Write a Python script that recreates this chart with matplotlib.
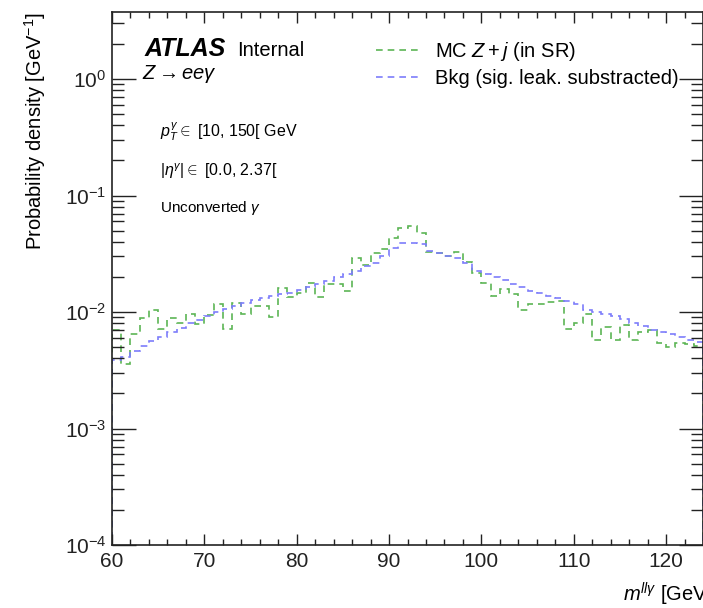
import numpy as np
import matplotlib
matplotlib.use('Agg')
import matplotlib.pyplot as plt
from matplotlib.ticker import LogLocator, MultipleLocator, LogFormatterSciNotation, NullFormatter

plt.rcParams['font.family'] = ['Liberation Sans', 'DejaVu Sans']
plt.rcParams['mathtext.fontset'] = 'custom'
plt.rcParams['mathtext.rm'] = 'Liberation Sans'
plt.rcParams['mathtext.it'] = 'Liberation Sans:italic'
plt.rcParams['mathtext.bf'] = 'Liberation Sans:bold'

# Binning of m_llgamma (1 GeV bins)
m_low = 60
m_high = 124
bin_edges = np.linspace(m_low, m_high, 65)

# MC Z+j (in SR)
mc_zj = [7.0e-3, 3.6e-3, 6.5e-3, 8.8e-3, 1.05e-2, 7.1e-3, 8.8e-3, 8.0e-3,
         9.6e-3, 7.9e-3, 9.4e-3, 1.17e-2, 7.1e-3, 1.2e-2, 9.7e-3, 1.12e-2,
         1.12e-2, 9.1e-3, 1.6e-2, 1.34e-2, 1.45e-2, 1.77e-2, 1.34e-2, 1.73e-2,
         1.73e-2, 1.5e-2, 2.9e-2, 2.54e-2, 3.24e-2, 3.47e-2, 4.3e-2, 5.26e-2,
         5.5e-2, 4.77e-2, 3.3e-2, 3.2e-2, 3.0e-2, 3.3e-2, 2.7e-2, 2.16e-2,
         1.77e-2, 1.37e-2, 1.57e-2, 1.43e-2, 1.04e-2, 1.17e-2, 1.18e-2, 1.23e-2,
         1.25e-2, 7.1e-3, 8.0e-3, 9.7e-3, 5.7e-3, 7.4e-3, 5.7e-3, 7.7e-3,
         5.7e-3, 6.8e-3, 7.0e-3, 5.4e-3, 5.0e-3, 5.4e-3, 5.3e-3, 5.1e-3]

# Bkg (sig. leak. substracted)
bkg = [3.9e-3, 4.1e-3, 4.6e-3, 5.1e-3, 5.6e-3, 6.1e-3, 6.7e-3, 7.3e-3,
       8.0e-3, 8.6e-3, 9.3e-3, 1.0e-2, 1.06e-2, 1.12e-2, 1.2e-2, 1.26e-2,
       1.32e-2, 1.38e-2, 1.43e-2, 1.47e-2, 1.55e-2, 1.65e-2, 1.73e-2, 1.85e-2,
       1.98e-2, 2.1e-2, 2.27e-2, 2.5e-2, 2.65e-2, 3.0e-2, 3.55e-2, 3.9e-2,
       3.95e-2, 3.85e-2, 3.35e-2, 3.2e-2, 3.0e-2, 2.9e-2, 2.65e-2, 2.25e-2,
       2.1e-2, 2.0e-2, 1.87e-2, 1.73e-2, 1.64e-2, 1.52e-2, 1.45e-2, 1.38e-2,
       1.32e-2, 1.25e-2, 1.18e-2, 1.05e-2, 1.0e-2, 9.6e-3, 9.2e-3, 8.7e-3,
       8.1e-3, 7.6e-3, 7.0e-3, 6.8e-3, 6.5e-3, 6.1e-3, 5.7e-3, 5.5e-3]

fig = plt.figure(figsize=(7.03, 6.08), dpi=100)
ax = fig.add_axes([112/703, 63/608, 591/703, 533/608])

ax.stairs(mc_zj, bin_edges, color='#5cb555', linestyle=(0, (4, 3)),
          linewidth=1.2, label=r'MC $Z+j$ (in SR)')
ax.stairs(bkg, bin_edges, color='#7d7dfb', linestyle=(0, (4, 3)),
          linewidth=1.2, label='Bkg (sig. leak. substracted)')

ax.set_yscale('log')
ax.set_xlim(m_low, m_high)
ax.set_ylim(1e-4, 3.76)

ax.xaxis.set_major_locator(MultipleLocator(10))
ax.xaxis.set_minor_locator(MultipleLocator(2))
ax.yaxis.set_major_locator(LogLocator(base=10, numticks=10))
ax.yaxis.set_minor_locator(LogLocator(base=10, subs=np.arange(2, 10), numticks=20))
ax.yaxis.set_major_formatter(LogFormatterSciNotation())
ax.yaxis.set_minor_formatter(NullFormatter())

ax.tick_params(which='both', direction='in', top=True, right=True,
               labelsize=15, width=1.0, colors='#222222')
ax.tick_params(axis='x', which='major', length=8, pad=5)
ax.tick_params(axis='x', which='minor', length=4)
ax.tick_params(axis='y', which='major', length=17, pad=4)
ax.tick_params(axis='y', which='minor', length=8.5)
for s in ax.spines.values():
    s.set_linewidth(1.2)
    s.set_color('#222222')

ax.set_ylabel(r'Probability density [GeV$^{-1}$]', fontsize=14.5, loc='top')
ax.set_xlabel(r'$m^{ll\gamma}$ [GeV]', fontsize=14.5)
ax.xaxis.set_label_coords(1.015, -0.092)
ax.xaxis.label.set_horizontalalignment('right')
ax.xaxis.label.set_verticalalignment('center')
ax.yaxis.set_label_coords(-0.108, 1.0)

# ATLAS label and selection info, positions in pixels from the top-left
labels = [
    (145, 56, 'ATLAS', dict(fontsize=18, fontweight='bold', fontstyle='italic')),
    (237, 56, 'Internal', dict(fontsize=14.5)),
    (142, 74, r'$Z\rightarrow ee\gamma$', dict(fontsize=14.5, va='center')),
    (160, 132, r'$p_{T}^{\gamma}\in$ [10, 150[ GeV', dict(fontsize=11.5, va='center')),
    (160, 171, r'$|\eta^{\gamma}|\in$ [0.0, 2.37[', dict(fontsize=11.5, va='center')),
    (160, 208, r'Unconverted $\gamma$', dict(fontsize=11, va='center')),
]
for x, y, s, kw in labels:
    fig.text(x / 703, (608 - y) / 608, s, **kw)

ax.legend(loc='upper left', bbox_to_anchor=(0.447, 0.948), frameon=False,
          fontsize=14.5, handlelength=2.1, handletextpad=0.8, labelspacing=0.3,
          borderpad=0, borderaxespad=0)

fig.savefig('out.png', dpi=100)
